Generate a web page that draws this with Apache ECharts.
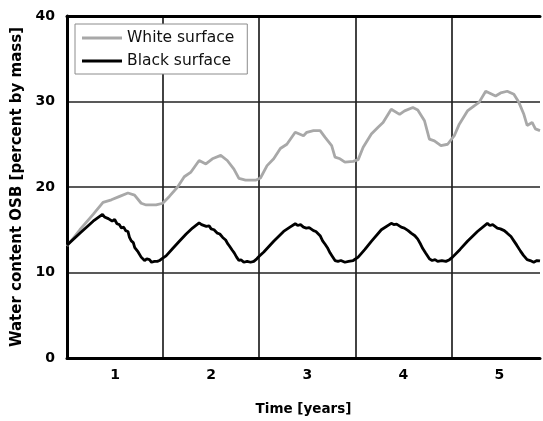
<!DOCTYPE html>
<html>
<head>
<meta charset="utf-8">
<script src="https://cdn.jsdelivr.net/npm/echarts@6/dist/echarts.min.js"></script>
<style>
html,body{margin:0;padding:0;background:#fff;}
#chart{width:543px;height:421px;}
</style>
</head>
<body>
<div id="chart"></div>
<script>
// Time in years
var whiteTime = [0,0.134,0.272,0.375,0.462,0.548,0.634,0.703,0.772,0.824,0.928,0.996,1.065,1.151,1.220,1.290,1.375,1.445,1.513,1.600,1.668,1.737,1.789,1.858,1.962,2.013,2.082,2.151,2.220,2.288,2.375,2.461,2.495,2.565,2.634,2.686,2.754,2.789,2.841,2.892,2.978,3.030,3.082,3.167,3.237,3.289,3.374,3.461,3.513,3.599,3.650,3.720,3.771,3.823,3.891,3.961,4.030,4.082,4.167,4.237,4.288,4.357,4.460,4.512,4.581,4.650,4.702,4.754,4.788,4.840,4.874,4.922];
var whiteValues = [13.1,15.0,16.8,18.2,18.5,18.9,19.3,19.05,18.1,17.9,17.9,18.1,18.9,20.0,21.2,21.75,23.1,22.7,23.3,23.7,23.1,22.1,21.0,20.8,20.8,21.05,22.5,23.3,24.5,25.0,26.4,26.0,26.4,26.6,26.6,25.8,24.85,23.5,23.3,22.9,23.0,23.2,24.65,26.2,27.0,27.55,29.1,28.5,28.9,29.3,29.0,27.75,25.6,25.4,24.85,25.0,26.0,27.35,28.9,29.5,29.9,31.2,30.65,31.0,31.2,30.85,29.9,28.5,27.2,27.55,26.8,26.6];

var blackTime = [0,0.134,0.272,0.369,0.39,0.41,0.43,0.445,0.47,0.496,0.52,0.545,0.566,0.59,0.61,0.634,0.65,0.669,0.69,0.705,0.721,0.74,0.755,0.772,0.79,0.807,0.83,0.858,0.88,0.91,0.94,0.962,0.985,1.031,1.10,1.169,1.24,1.306,1.375,1.40,1.42,1.45,1.479,1.50,1.53,1.565,1.59,1.62,1.651,1.67,1.69,1.72,1.74,1.765,1.789,1.81,1.84,1.875,1.91,1.944,1.975,2.0,2.048,2.151,2.254,2.32,2.375,2.40,2.43,2.461,2.49,2.52,2.565,2.59,2.634,2.66,2.686,2.71,2.737,2.76,2.789,2.82,2.85,2.892,2.93,2.978,3.030,3.10,3.167,3.271,3.374,3.40,3.43,3.478,3.51,3.55,3.581,3.62,3.650,3.68,3.702,3.73,3.771,3.80,3.83,3.857,3.90,3.943,3.98,4.012,4.09,4.167,4.271,4.374,4.40,4.43,4.478,4.51,4.55,4.581,4.62,4.650,4.68,4.719,4.75,4.788,4.82,4.857,4.89,4.922];
var blackValues = [13.2,14.6,16.0,16.8,16.5,16.7,16.3,16.4,16.0,16.2,15.7,15.6,15.2,15.3,14.9,14.8,14.1,13.7,13.5,12.9,13.0,12.4,12.2,11.8,11.7,11.4,11.6,11.5,11.2,11.3,11.3,11.4,11.6,11.95,12.8,13.65,14.5,15.2,15.8,15.6,15.7,15.4,15.45,15.1,15.0,14.6,14.5,14.1,13.8,13.4,13.1,12.6,12.3,11.8,11.4,11.5,11.2,11.3,11.2,11.3,11.6,11.9,12.4,13.65,14.8,15.3,15.7,15.5,15.6,15.3,15.2,15.25,14.9,14.8,14.3,13.7,13.3,12.9,12.3,11.9,11.4,11.3,11.4,11.2,11.3,11.4,11.8,12.7,13.65,15.0,15.75,15.6,15.65,15.3,15.2,14.9,14.6,14.3,13.9,13.3,12.8,12.3,11.6,11.4,11.5,11.3,11.4,11.3,11.5,11.8,12.7,13.65,14.8,15.75,15.5,15.6,15.2,15.1,14.9,14.6,14.2,13.7,13.2,12.5,12.0,11.5,11.4,11.2,11.4,11.35];

var xTickLabels = ['1','2','3','4','5'];
var seriesNames = ['White surface','Black surface'];
var xAxisTitle = 'Time [years]';
var yAxisTitle = 'Water content OSB [percent by mass]';

function pairs(t, v){ return t.map(function(x,i){ return [x, v[i]]; }); }

var FONT = 'DejaVu Sans';
var chart = echarts.init(document.getElementById('chart'), null, {renderer:'canvas'});
var xMax = 4.922;
chart.setOption({
  animation: false,
  backgroundColor: '#fff',
  grid: {left: 67, top: 16, right: 0, bottom: 60, containLabel: false},
  legend: {
    orient: 'vertical', left: 75, top: 24,
    padding: [6, 13, 5, 7], itemGap: 7, itemWidth: 40, itemHeight: 14,
    borderColor: '#8c8c8c', borderWidth: 1, backgroundColor: '#fff',
    textStyle: {fontFamily: FONT, fontSize: 15.5, color: '#111'},
    data: [{name: seriesNames[0], icon: 'path://M0,0H40V2.8H0Z'}, {name: seriesNames[1], icon: 'path://M0,0H40V3H0Z'}]
  },
  xAxis: [
    {type: 'value', position: 'bottom', min: 0, max: xMax, interval: 1,
     axisLine: {show: true, onZero: false, lineStyle: {color: '#000', width: 3}},
     axisTick: {show: false}, axisLabel: {show: false},
     splitLine: {show: true, showMaxLine: false, lineStyle: {color: '#222', width: 1.7}},
     name: xAxisTitle, nameLocation: 'middle', nameGap: 44,
     nameTextStyle: {fontFamily: FONT, fontWeight: 'bold', fontSize: 13.5, color: '#000'}},
    {type: 'value', position: 'bottom', min: 0, max: xMax, interval: 0.5,
     axisLine: {show: false}, axisTick: {show: false}, splitLine: {show: false},
     axisLabel: {show: true, margin: 10, fontFamily: FONT, fontWeight: 'bold', fontSize: 14, color: '#000',
       showMinLabel: true, showMaxLabel: true, hideOverlap: false,
       formatter: function(v){
         var f = Math.round((v - Math.floor(v)) * 1000) / 1000;
         if (f !== 0.5) return '';
         var idx = Math.floor(v);
         return xTickLabels[idx] || '';
       }}},
    {type: 'value', position: 'top', min: 0, max: xMax,
     axisLine: {show: true, lineStyle: {color: '#000', width: 3}},
     axisTick: {show: false}, axisLabel: {show: false}, splitLine: {show: false}}
  ],
  yAxis: {
    type: 'value', min: 0, max: 40, interval: 10,
    axisLine: {show: true, lineStyle: {color: '#000', width: 3}},
    axisTick: {show: false},
    axisLabel: {margin: 12, fontFamily: FONT, fontWeight: 'bold', fontSize: 14, color: '#000'},
    splitLine: {show: true, lineStyle: {color: '#222', width: 1.7}},
    name: yAxisTitle, nameLocation: 'middle', nameGap: 41, nameRotate: 90,
    nameTextStyle: {fontFamily: FONT, fontWeight: 'bold', fontSize: 15, color: '#000'}
  },
  series: [
    {name: seriesNames[0], type: 'line', xAxisIndex: 0, data: pairs(whiteTime, whiteValues),
     showSymbol: false, symbol: 'none', lineStyle: {color: '#a8a8a8', width: 2.8}, itemStyle: {color: '#a8a8a8'}, z: 3},
    {name: seriesNames[1], type: 'line', xAxisIndex: 0, data: pairs(blackTime, blackValues),
     showSymbol: false, symbol: 'none', lineStyle: {color: '#000', width: 2.8}, itemStyle: {color: '#000'}, z: 4}
  ]
});
</script>
</body>
</html>
